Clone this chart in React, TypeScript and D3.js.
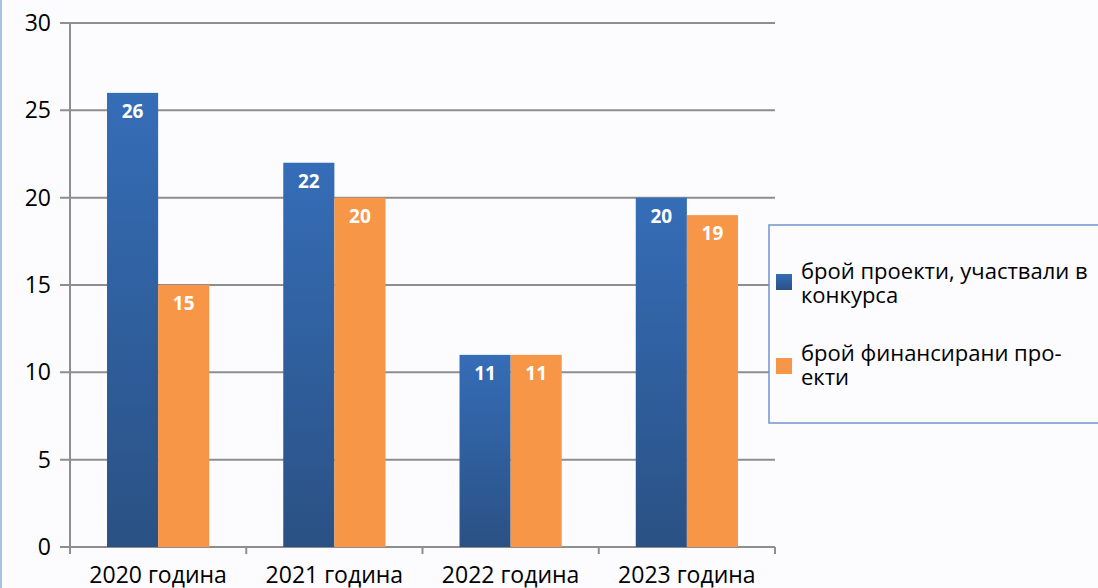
import React from "react";
import * as d3 from "d3";

const categories = ["2020 година", "2021 година", "2022 година", "2023 година"];
const seriesNames = ["брой проекти, участвали в конкурса", "брой финансирани проекти"];
const legendLines = [["брой проекти, участвали в", "конкурса"], ["брой финансирани про-", "екти"]];
const participated = [26, 22, 11, 20];
const funded = [15, 20, 11, 19];
const yTicks = [0, 5, 10, 15, 20, 25, 30];

const W = 1098, H = 588;
const left = 70, right = 775, top = 23, bottom = 547;
const FONT = "'Open Sans', 'Noto Sans', sans-serif";
const GRID = "#8e8e8e";

export default function App() {
  const x0 = d3.scaleBand<string>().domain(categories).range([left, right]).paddingInner(0).paddingOuter(0);
  const bw = x0.bandwidth();
  const groupW = bw * 0.58;
  const x1 = d3.scaleBand<string>().domain(["a", "b"]).range([(bw - groupW) / 2, (bw + groupW) / 2]).padding(0);
  const y = d3.scaleLinear().domain([0, 30]).range([bottom, top]);
  const series = [
    { key: "a", values: participated, fill: "url(#blueGrad)" },
    { key: "b", values: funded, fill: "#f79646" },
  ];
  const tickXs = [...categories.map((c) => x0(c)!), right];

  return (
    <svg width={W} height={H} style={{ position: "absolute", left: 0, top: 0, background: "#fcfbfe" }} fontFamily={FONT}>
      <defs>
        <linearGradient id="blueGrad" x1="0" y1="0" x2="0" y2="1">
          <stop offset="0%" stopColor="#356db7" />
          <stop offset="100%" stopColor="#2a5184" />
        </linearGradient>
      </defs>
      <rect x={0} y={0} width={W} height={H} fill="#fcfbfe" />
      <line x1={1} x2={1} y1={0} y2={H} stroke="#a8c2e4" strokeWidth={2} />
      {yTicks.map((t) => (
        <g key={t}>
          <line x1={60} x2={right} y1={y(t)} y2={y(t)} stroke={GRID} strokeWidth={2} />
          <text x={51} y={y(t) + 8} textAnchor="end" fontSize={23} fill="#000">{t}</text>
        </g>
      ))}
      <line x1={left} x2={left} y1={top} y2={bottom + 6} stroke={GRID} strokeWidth={2} />
      {tickXs.map((tx, i) => (
        <line key={i} x1={tx} x2={tx} y1={bottom} y2={bottom + 7} stroke={GRID} strokeWidth={2} />
      ))}
      {categories.map((c, ci) => (
        <g key={c}>
          {series.map((s) => {
            const bx = x0(c)! + x1(s.key)!;
            const by = y(s.values[ci]);
            return (
              <g key={s.key}>
                <rect x={bx} y={by} width={x1.bandwidth()} height={bottom - by} fill={s.fill} />
                <text x={bx + x1.bandwidth() / 2} y={by + 25} textAnchor="middle" fontSize={19} fontWeight="bold" fill="#fff">{s.values[ci]}</text>
              </g>
            );
          })}
          <text x={x0(c)! + bw / 2} y={583} textAnchor="middle" fontSize={23} fill="#000">{c}</text>
        </g>
      ))}
      <rect x={769} y={225} width={340} height={198} fill="#fcfbfe" stroke="#6f95cc" strokeWidth={1.5} />
      {seriesNames.map((n, i) => (
        <g key={n}>
          <rect x={776} y={274 + i * 84} width={16} height={16} fill={i === 0 ? "url(#blueGrad)" : "#f79646"} />
          <text x={801} y={279 + i * 82} fontSize={22} fill="#000">
            {legendLines[i].map((l, li) => (
              <tspan key={li} x={801} dy={li === 0 ? 0 : 23.5}>{l}</tspan>
            ))}
          </text>
        </g>
      ))}
    </svg>
  );
}
